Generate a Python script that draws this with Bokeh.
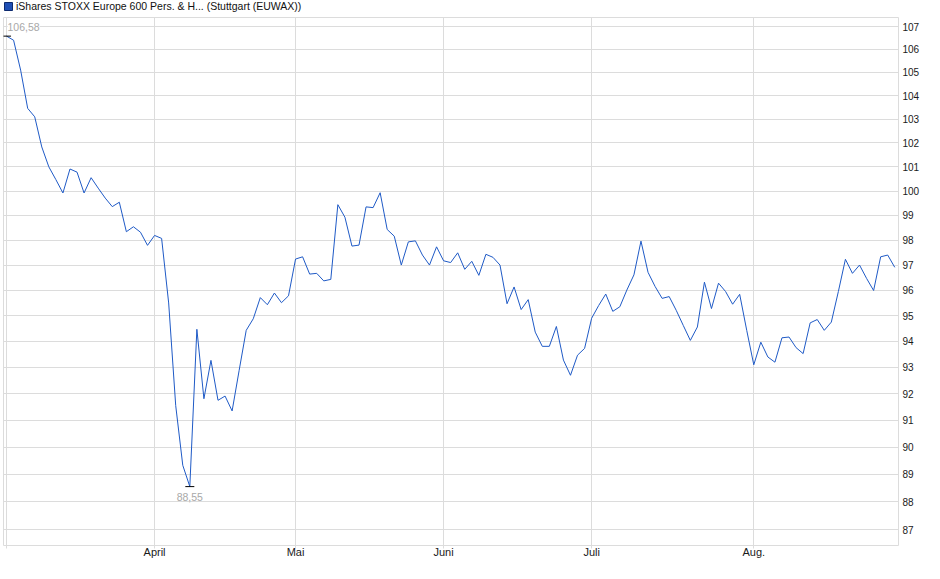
import numpy as np
from bokeh.plotting import figure
from bokeh.layouts import column
from bokeh.models import (ColumnDataSource, CDSView, IndexFilter, FixedTicker,
                          PrintfTickFormatter, Range1d, Legend, LegendItem)
from bokeh.core.properties import value
from bokeh.embed import file_html
from bokeh.resources import INLINE

series_name = "iShares STOXX Europe 600 Pers. & H... (Stuttgart (EUWAX))"

# daily closes, one per trading day (März .. Aug.)
prices = [
    106.58, 106.40, 105.10, 103.46, 103.10, 101.83, 101.00, 100.47, 99.92, 100.91,
    100.78, 99.92, 100.55, 100.12, 99.71, 99.36, 99.54, 98.34, 98.54, 98.32,
    97.79, 98.19, 98.07, 95.50, 91.55, 89.33, 88.55, 94.47, 91.81, 93.27,
    91.75, 91.91, 91.35, 92.89, 94.43, 94.88, 95.71, 95.43, 95.89, 95.51,
    95.78, 97.24, 97.33, 96.64, 96.67, 96.37, 96.43, 99.44, 98.93, 97.76,
    97.80, 99.35, 99.32, 99.93, 98.43, 98.16, 97.00, 97.93, 97.97, 97.40,
    97.00, 97.73, 97.17, 97.10, 97.49, 96.83, 97.15, 96.59, 97.43, 97.31,
    97.00, 95.47, 96.13, 95.24, 95.63, 94.36, 93.81, 93.81, 94.58, 93.28,
    92.70, 93.47, 93.73, 94.90, 95.40, 95.85, 95.17, 95.35, 96.01, 96.61,
    97.96, 96.71, 96.15, 95.68, 95.75, 95.21, 94.62, 94.04, 94.56, 96.32,
    95.28, 96.28, 95.95, 95.45, 95.84, 94.43, 93.10, 93.97, 93.40, 93.20,
    94.14, 94.17, 93.76, 93.53, 94.72, 94.85, 94.43, 94.75, 95.95, 97.23,
    96.67, 97.00, 96.47, 95.99, 97.33, 97.40, 96.91,
]

# first trading day of each month (index into prices)
month_starts = [0, 21, 41, 62, 83, 106]
month_labels = ["", "April", "Mai", "Juni", "Juli", "Aug."]
price_ticks = list(range(87, 108))

FONT = "Liberation Sans"
GRID = "#dcdcdc"
BLUE = "#1f5ac6"

days = np.arange(len(prices))
src = ColumnDataSource(data=dict(day=days, price=prices))

# --- header strip with the series key ---
# the key renderer uses one row of the data, kept outside the strip's x range,
# so only its legend swatch shows
header = figure(width=924, height=16, output_backend="svg", toolbar_location=None,
                x_axis_location=None, y_axis_location=None, min_border=0,
                x_range=Range1d(len(prices), len(prices) + 1),
                outline_line_color=None, border_fill_color="white")
header.grid.visible = False
key = header.quad(left="day", right="day", top="price", bottom="price", source=src,
                  view=CDSView(filter=IndexFilter([0])),
                  fill_color="#1f4fb5", line_color="#0d2a6e")
legend = Legend(items=[LegendItem(label=series_name, renderers=[key])],
                location="top_left", orientation="horizontal",
                glyph_width=10, glyph_height=10, label_height=10,
                label_standoff=3, padding=2, margin=0, spacing=0,
                border_line_color=None, background_fill_alpha=0,
                label_text_font=FONT, label_text_font_size="10.5px",
                label_text_color="#111111")
header.add_layout(legend, "center")

# --- main chart ---
p = figure(width=924, height=547, output_backend="svg", toolbar_location=None,
           y_axis_type="log", y_axis_location="right",
           x_range=Range1d(-0.43, len(prices) - 0.47),
           y_range=Range1d(86.43, 107.40),
           min_border_left=3, min_border_right=26,
           min_border_top=1, min_border_bottom=18,
           outline_line_color=GRID,
           background_fill_color="white", border_fill_color="white")

p.xaxis.ticker = FixedTicker(ticks=month_starts)
p.xaxis.major_label_overrides = {s: l for s, l in zip(month_starts, month_labels)}
p.xaxis.axis_line_color = None
p.xaxis.major_tick_in = 0
p.xaxis.major_tick_out = 3
p.xaxis.major_tick_line_color = GRID
p.xaxis.minor_tick_line_color = None
p.xaxis.major_label_standoff = -3
p.xaxis.major_label_text_font = FONT
p.xaxis.major_label_text_font_size = "11px"
p.xaxis.major_label_text_color = "#1a1a1a"

yticker = FixedTicker(ticks=price_ticks)
p.yaxis.ticker = yticker
p.ygrid.ticker = yticker
p.yaxis.formatter = PrintfTickFormatter(format="%d")
p.yaxis.axis_line_color = None
p.yaxis.major_tick_in = 0
p.yaxis.major_tick_out = 0
p.yaxis.major_tick_line_color = None
p.yaxis.minor_tick_line_color = None
p.yaxis.major_label_standoff = 4
p.yaxis.major_label_text_font = FONT
p.yaxis.major_label_text_font_size = "10px"
p.yaxis.major_label_text_color = "#1a1a1a"

p.xgrid.grid_line_color = GRID
p.ygrid.grid_line_color = GRID

# price line
p.line("day", "price", source=src, line_color=BLUE, line_width=1)

# high / low markers
imax = int(np.argmax(prices))
imin = int(np.argmin(prices))
fmt = lambda v: f"{v:.2f}".replace(".", ",")

p.scatter([imax, imin], [prices[imax], prices[imin]], marker="dash", size=9,
          line_color="black", line_width=1)
p.text([imax], [prices[imax]], text=[fmt(prices[imax])], x_offset=1, y_offset=-9,
       text_align="left", text_baseline="middle", text_font=value(FONT),
       text_font_size="10.5px", text_color="#a8a8a8", background_fill_color="white")
p.text([imin], [prices[imin]], text=[fmt(prices[imin])], x_offset=0, y_offset=10,
       text_align="center", text_baseline="middle", text_font=value(FONT),
       text_font_size="10.5px", text_color="#a8a8a8", background_fill_color="white")

page = column(header, p, spacing=0)
open("out.html", "w").write(file_html(page, INLINE))
